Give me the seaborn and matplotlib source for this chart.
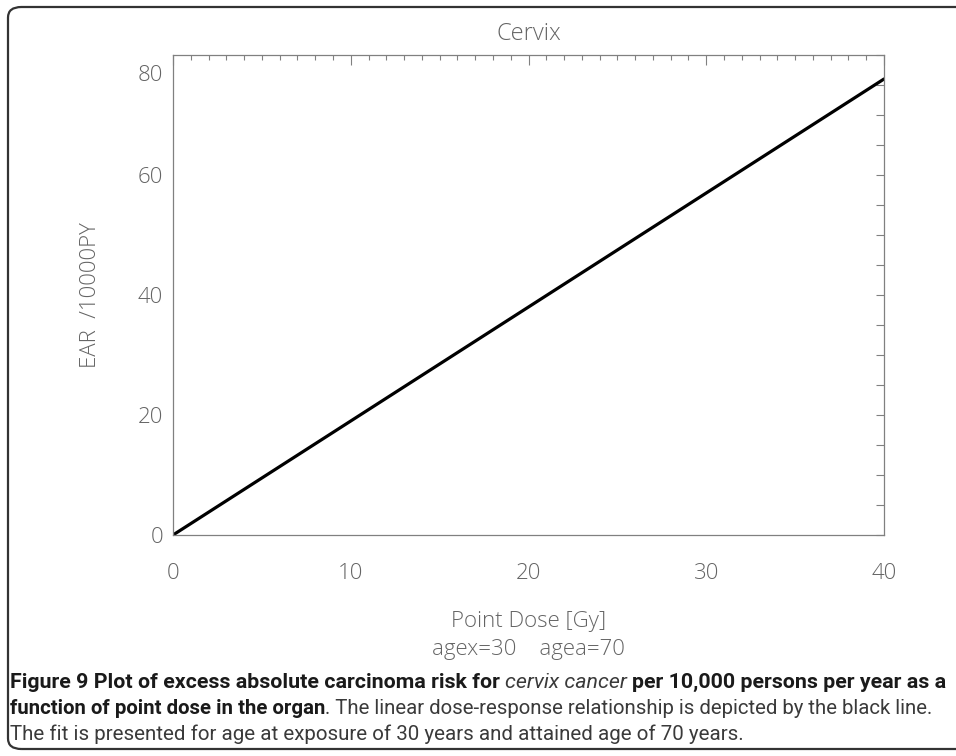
import numpy as np
import pandas as pd
import seaborn as sns
import matplotlib.pyplot as plt
from matplotlib.patches import FancyBboxPatch
from matplotlib.transforms import ScaledTranslation

# data
dose = [0, 10, 20, 30, 40]
ear = [0, 19.0, 38.0, 57.0, 76.0]
x_ticks = [0, 10, 20, 30, 40]
y_ticks = [0, 20, 40, 60, 80]

title = 'Cervix'
x_label = 'Point Dose [Gy]'
y_label = 'EAR  /10000PY'
sub_label = 'agex=30    agea=70'

caption = [
    [('Figure 9 Plot of excess absolute carcinoma risk for', 'bold', 'normal'),
     (' ', None, None),
     ('cervix cancer', 'normal', 'italic'),
     (' ', None, None),
     ('per 10,000 persons per year as a', 'bold', 'normal')],
    [('function of point dose in the organ', 'bold', 'normal'),
     ('. The linear dose-response relationship is depicted by the black line.', 'normal', 'normal')],
    [('The fit is presented for age at exposure of 30 years and attained age of 70 years.', 'normal', 'normal')],
]
caption_widths = [940, 930, 736]

df = pd.DataFrame({'dose': dose, 'ear': ear})

sns.set_style('white')
plot_font = ['Open Sans', 'DejaVu Sans']
cap_font = ['Roboto', 'DejaVu Sans']
plt.rcParams['font.family'] = plot_font
grey = '#808080'
tgrey = '#646464'

fig = plt.figure(figsize=(9.56, 7.56), dpi=100)
W, H = 956, 756
ax = fig.add_axes([173 / W, 1 - 535 / H, 711 / W, 480 / H])

sns.lineplot(data=df, x='dose', y='ear', ax=ax, color='black', linewidth=2.3)

ax.set_xlim(0, 40)
ax.set_ylim(0, 80)
ax.set_xticks(x_ticks)
ax.set_yticks(y_ticks)
ax.set_xticks(np.arange(0, 41, 1), minor=True)
ax.set_yticks(np.arange(0, 81, 5), minor=True)
for s in ax.spines.values():
    s.set_color(grey)
    s.set_linewidth(0.9)
    s.set_visible(True)
ax.tick_params(which='both', direction='in', top=True, right=True, color=grey, width=0.8)
ax.tick_params(axis='x', which='major', length=7, pad=20, labelsize=16, labelcolor=tgrey)
ax.tick_params(axis='x', which='minor', length=3.5)
ax.tick_params(axis='y', which='both', length=5.5, pad=7, labelsize=16, labelcolor=tgrey)
for lab in ax.get_xticklabels() + ax.get_yticklabels():
    lab.set_fontweight('light')
# the top y label sits a little below its tick in the reference
top_lab = ax.yaxis.get_major_ticks()[-1].label1
top_lab.set_transform(top_lab.get_transform() + ScaledTranslation(0, -18 / 100, fig.dpi_scale_trans))

ax.set_xlabel(x_label, fontsize=16, color=tgrey, fontweight='light', va='center')
ax.xaxis.set_label_coords(0.5, (535 - 622) / 480)
ax.set_ylabel(y_label, fontsize=16, color=tgrey, fontweight='light', va='center')
ax.yaxis.set_label_coords((90 - 173) / 711, 0.5)
ax.text(0.5, (535 - 34) / 480, title, transform=ax.transAxes, ha='center', va='center',
        fontsize=17, color=tgrey, fontweight='light')
ax.text(0.5, (535 - 650) / 480, sub_label, transform=ax.transAxes, ha='center', va='center',
        fontsize=16, color=tgrey, fontweight='light')

# rounded frame (right side runs off the picture)
frame = FancyBboxPatch((8 / W, 1 - 749 / H), 1.2, (749 - 7) / H,
                       boxstyle='round,pad=0,rounding_size=0.014',
                       transform=fig.transFigure, fill=False, edgecolor='#333333',
                       linewidth=1.6, clip_on=False)
fig.patches.append(frame)

# caption, laid out piece by piece
r = fig.canvas.get_renderer()


def piece_width(text, size, weight, style):
    t = fig.text(0, 0, text, fontsize=size, fontweight=weight, fontstyle=style, family=cap_font)
    w = t.get_window_extent(r).width
    t.remove()
    return w


def space_width(size, weight='normal'):
    return piece_width('a a', size, weight, 'normal') - piece_width('aa', size, weight, 'normal')


def line_width(line, size):
    total = 0
    for text, weight, style in line:
        if weight is None:
            total += space_width(size, 'bold')
        else:
            total += piece_width(text, size, weight, style)
    return total


baselines = [688, 714, 740]
for line, yb, target in zip(caption, baselines, caption_widths):
    size = 14 * target / line_width(line, 14)
    xp = 10
    for text, weight, style in line:
        if weight is None:
            xp += space_width(size, 'bold')
            continue
        color = '#1a1a1a' if weight == 'bold' else '#3a3a3a'
        t = fig.text(xp / W, 1 - yb / H, text, fontsize=size, fontweight=weight,
                     fontstyle=style, family=cap_font, color=color, va='baseline')
        xp += t.get_window_extent(r).width

fig.savefig('out.png', dpi=100)
